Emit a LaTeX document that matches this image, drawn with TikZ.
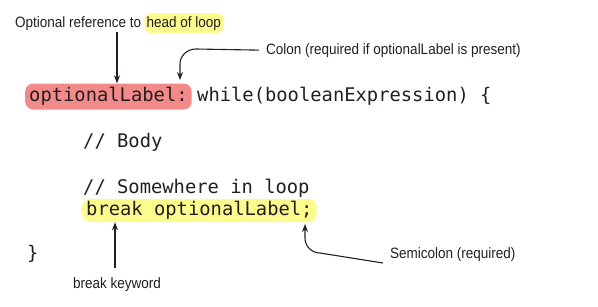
\documentclass[tikz,border=0pt]{standalone}
\usepackage{fontspec}
\usepackage{tikz}
\usetikzlibrary{arrows.meta}
\newfontfamily\codefont{DejaVu Sans Mono}
\newfontfamily\notefont[FakeStretch=0.9]{Liberation Sans}
\definecolor{labelred}{HTML}{F28A8A}
\definecolor{markyellow}{HTML}{FBFB8E}
\definecolor{inkgray}{HTML}{231F20}

\tikzset{
  code/.style={font=\codefont\fontsize{18.8}{20}\selectfont, text=inkgray,
    anchor=base west, inner sep=0pt},
  note/.style={font=\notefont\fontsize{15}{17}\selectfont, text=inkgray,
    anchor=base west, inner sep=0pt},
  hilite/.style={rounded corners=8pt, inner xsep=4pt, inner ysep=4pt},
  pointer/.style={draw=inkgray, line width=1.1pt, -{Stealth[length=8pt,width=6pt]}}
}

\begin{document}
\begin{tikzpicture}[x=1pt,y=-1pt]
\useasboundingbox (0,0) rectangle (598,306);
% code lines
\node[code, hilite, fill=labelred, text height=13.5pt, text depth=4.5pt] (lbl) at (25,101) {optionalLabel:};
\node[code] (head) at (197,101) {while(booleanExpression) \{};
\node[code] (body) at (83,147) {// Body};
\node[code] (where) at (83,193) {// Somewhere in loop};
\node[code, hilite, fill=markyellow, inner ysep=2.5pt, text height=13.5pt, text depth=4.5pt] (brk) at (82,215) {break optionalLabel;};
\node[code] (close) at (27,259) {\}};
% notes
\node[note] (optref) at (15,27) {Optional reference to};
\node[note, fill=markyellow, rounded corners=6pt, inner xsep=2pt, inner ysep=3pt, anchor=base west] (loophead) at ([xshift=3pt]optref.base east) {head of loop};
\node[note] (colon) at (266,54) {Colon (required if optionalLabel is present)};
\node[note] (semi) at (390,258) {Semicolon (required)};
\node[note] (kw) at (73,288) {break keyword};
% arrows
\coordinate (a1) at (117,32);
\coordinate (a2) at (115,268);
\draw[pointer] (a1) -- (a1 |- lbl.north);
\draw[pointer] ([xshift=-7pt]colon.west) -- (196,49) to[out=180,in=90] (180,64) -- (180,80);
\draw[pointer] (a2) -- (a2 |- brk.south);
\draw[pointer] ([xshift=-7pt,yshift=-5pt]semi.base west) -- (320,253) to[out=180,in=-90] (305,238) -- (305,224);
\end{tikzpicture}
\end{document}
